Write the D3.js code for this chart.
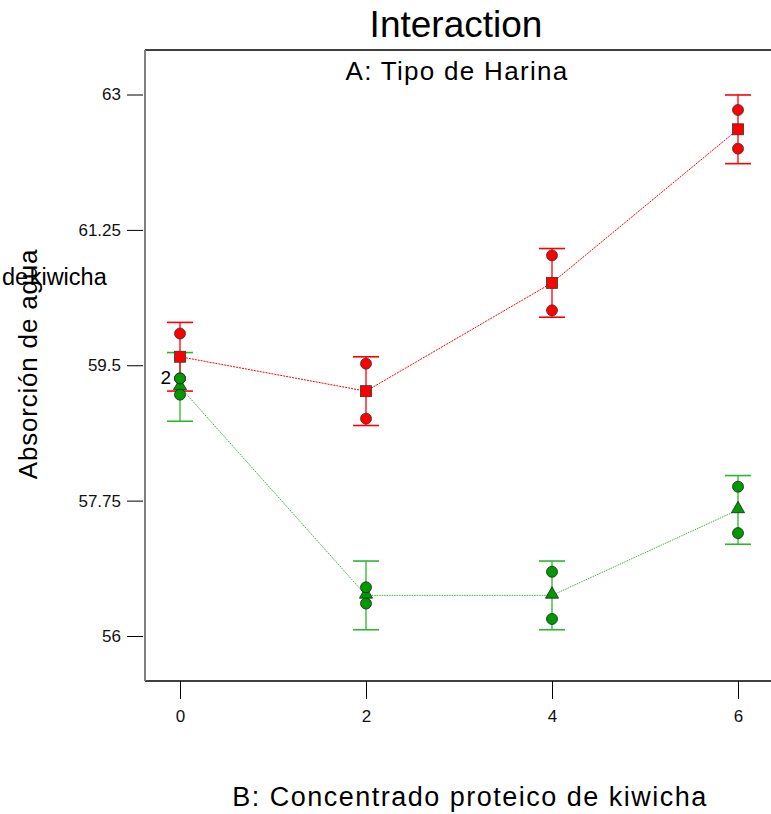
<!DOCTYPE html>
<html>
<head>
<meta charset="utf-8">
<script src="https://cdn.jsdelivr.net/npm/d3@7"></script>
<style>
  html, body { margin: 0; padding: 0; background: #fff; }
  svg { display: block; font-family: "Liberation Sans", Arial, sans-serif; }
</style>
</head>
<body>
<svg id="chart" width="771" height="814"></svg>
<script>
// ---- data ----
const xLevels = [0, 2, 4, 6];
const yTicks = [56, 57.75, 59.5, 61.25, 63];
const yTickLabels = ["56", "57.75", "59.5", "61.25", "63"];
const xTickLabels = ["0", "2", "4", "6"];
const lsdHalf = 0.444;

const redPoints = [[59.91, 59.33], [59.52, 58.81], [60.92, 60.21], [62.80, 62.30]];
const redMeans = [59.61, 59.165, 60.565, 62.55];
const greenPoints = [[59.33, 59.12], [56.63, 56.42], [56.83, 56.22], [57.93, 57.33]];
const greenMeans = [59.22, 56.525, 56.525, 57.63];

const titleText = "Interaction";
const subtitleText = "A: Tipo de Harina";
const xLabelText = "B: Concentrado proteico de kiwicha";
const yLabelText = "Absorción de agua";
const strayText = "de kiwicha";
const overlapLabel = "2";

// ---- layout ----
const frame = { left: 145, right: 773, top: 50, bottom: 681 };
const svg = d3.select("#chart");

const x = d3.scaleLinear().domain([0, 6]).range([180, 738]);
const y = d3.scaleLinear().domain([56, 63]).range([636, 94.5]);

const RED = "#ff0000", GREEN = "#009900", GREENBAR = "#2db52d", GREENLINE = "#3fb03f";

// frame
svg.append("line").attr("x1", frame.left).attr("x2", frame.right)
  .attr("y1", frame.top).attr("y2", frame.top).attr("stroke", "#000").attr("stroke-width", 1.5);
svg.append("line").attr("x1", frame.left).attr("x2", frame.right)
  .attr("y1", frame.bottom).attr("y2", frame.bottom).attr("stroke", "#000").attr("stroke-width", 1.5);
svg.append("line").attr("x1", frame.left).attr("x2", frame.left)
  .attr("y1", frame.top).attr("y2", frame.bottom).attr("stroke", "#808080").attr("stroke-width", 2);

// y axis
const yAxis = d3.axisLeft(y).tickValues(yTicks)
  .tickFormat((d, i) => yTickLabels[i]).tickSize(16).tickPadding(6);
const yg = svg.append("g").attr("transform", `translate(${frame.left - 2},0)`).call(yAxis);
yg.select(".domain").remove();
yg.selectAll(".tick line").attr("stroke", "#000").attr("stroke-width", 1);
yg.selectAll(".tick text").attr("font-size", 17).attr("fill", "#111")
  .attr("font-family", "Liberation Sans, Arial, sans-serif");

// x axis
const xAxis = d3.axisBottom(x).tickValues(xLevels)
  .tickFormat((d, i) => xTickLabels[i]).tickSize(18).tickPadding(11);
const xg = svg.append("g").attr("transform", `translate(0,${frame.bottom})`).call(xAxis);
xg.select(".domain").remove();
xg.selectAll(".tick line").attr("stroke", "#000").attr("stroke-width", 1);
xg.selectAll(".tick text").attr("font-size", 17).attr("fill", "#111")
  .attr("font-family", "Liberation Sans, Arial, sans-serif");

// error bars
function errorBars(means, color) {
  const g = svg.append("g");
  means.forEach((m, i) => {
    const cx = x(xLevels[i]);
    const t = y(m + lsdHalf), b = y(m - lsdHalf);
    g.append("line").attr("x1", cx).attr("x2", cx).attr("y1", t).attr("y2", b)
      .attr("stroke", color).attr("stroke-width", 1.3);
    [t, b].forEach(yy => g.append("line").attr("x1", cx - 13).attr("x2", cx + 13)
      .attr("y1", yy).attr("y2", yy).attr("stroke", color).attr("stroke-width", 1.6));
  });
}
errorBars(greenMeans, GREENBAR);
errorBars(redMeans, RED);

// mean lines
const lineGen = d3.line().x((d, i) => x(xLevels[i])).y(d => y(d));
svg.append("path").datum(greenMeans).attr("d", lineGen).attr("fill", "none")
  .attr("stroke", GREENLINE).attr("stroke-width", 1).attr("stroke-dasharray", "1.5,1");
svg.append("path").datum(redMeans).attr("d", lineGen).attr("fill", "none")
  .attr("stroke", RED).attr("stroke-width", 1).attr("stroke-dasharray", "2,1");

// means markers
const tri = d3.symbol().type(d3.symbolTriangle).size(75);
greenMeans.forEach((m, i) => {
  svg.append("path").attr("d", tri)
    .attr("transform", `translate(${x(xLevels[i])},${y(m) - 1})`)
    .attr("fill", GREEN).attr("stroke", "#222").attr("stroke-width", 0.8);
});
redMeans.forEach((m, i) => {
  svg.append("rect").attr("x", x(xLevels[i]) - 5.5).attr("y", y(m) - 5.5)
    .attr("width", 11).attr("height", 11)
    .attr("fill", RED).attr("stroke", "#333").attr("stroke-width", 0.8);
});

// design points
redPoints.forEach((pts, i) => pts.forEach(v => {
  svg.append("circle").attr("cx", x(xLevels[i])).attr("cy", y(v)).attr("r", 5.5)
    .attr("fill", RED).attr("stroke", "#333").attr("stroke-width", 0.8);
}));
greenPoints.forEach((pts, i) => pts.forEach(v => {
  svg.append("circle").attr("cx", x(xLevels[i])).attr("cy", y(v)).attr("r", 5.5)
    .attr("fill", GREEN).attr("stroke", "#222").attr("stroke-width", 0.8);
}));

// overlap count label
svg.append("text").attr("x", x(xLevels[0]) - 9).attr("y", y(greenPoints[0][0]) + 6)
  .attr("text-anchor", "end").attr("font-size", 19).attr("fill", "#000").text(overlapLabel);

// titles
svg.append("text").attr("x", 456).attr("y", 37).attr("text-anchor", "middle")
  .attr("font-size", 37).attr("fill", "#000").text(titleText);
svg.append("text").attr("x", 457).attr("y", 80).attr("text-anchor", "middle")
  .attr("font-size", 26).attr("letter-spacing", 1.3).attr("fill", "#000").text(subtitleText);
svg.append("text").attr("x", 470).attr("y", 806).attr("text-anchor", "middle")
  .attr("font-size", 27).attr("letter-spacing", 1.5).attr("fill", "#000").text(xLabelText);
svg.append("text").attr("transform", "translate(37,364) rotate(-90)").attr("text-anchor", "middle")
  .attr("font-size", 26).attr("letter-spacing", 0.8).attr("fill", "#000").text(yLabelText);
svg.append("text").attr("x", 2).attr("y", 285).attr("text-anchor", "start")
  .attr("font-size", 23.5).attr("word-spacing", -5).attr("fill", "#000").text(strayText);
</script>
</body>
</html>
